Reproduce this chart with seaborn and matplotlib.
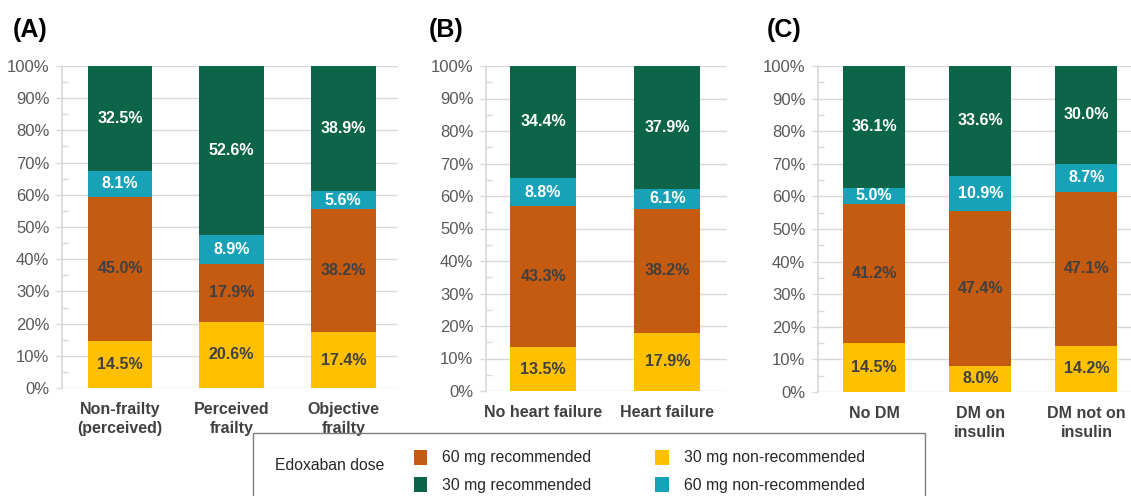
import numpy as np
import pandas as pd
import matplotlib
matplotlib.use("Agg")
import matplotlib.pyplot as plt
import matplotlib.ticker as mticker
from matplotlib.patches import Patch, Rectangle
import seaborn as sns

# stacking order, bottom -> top
series_names = ["30 mg non-recommended", "60 mg recommended", "60 mg non-recommended", "30 mg recommended"]
series_colors = {"30 mg non-recommended": "#FFC000", "60 mg recommended": "#C55A11",
                 "60 mg non-recommended": "#17A2B8", "30 mg recommended": "#0C6548"}
label_colors = {"30 mg non-recommended": "#404040", "60 mg recommended": "#404040",
                "60 mg non-recommended": "white", "30 mg recommended": "white"}

# (A) frailty
groups_a = ["Non-frailty\n(perceived)", "Perceived\nfrailty", "Objective\nfrailty"]
a_30_nonrec = [14.5, 20.6, 17.4]
a_60_rec = [45.0, 17.9, 38.2]
a_60_nonrec = [8.1, 8.9, 5.6]
a_30_rec = [32.5, 52.6, 38.9]

# (B) heart failure
groups_b = ["No heart failure", "Heart failure"]
b_30_nonrec = [13.5, 17.9]
b_60_rec = [43.3, 38.2]
b_60_nonrec = [8.8, 6.1]
b_30_rec = [34.4, 37.9]

# (C) diabetes
groups_c = ["No DM", "DM on\ninsulin", "DM not on\ninsulin"]
c_30_nonrec = [14.5, 8.0, 14.2]
c_60_rec = [41.2, 47.4, 47.1]
c_60_nonrec = [5.0, 10.9, 8.7]
c_30_rec = [36.1, 33.6, 30.0]

sns.set_theme(style="white")
plt.rcParams['font.family'] = ['Liberation Sans', 'DejaVu Sans']

W, H = 1131, 496
fig = plt.figure(figsize=(W / 100, H / 100), dpi=100)


def px_axes(left, right, top, bottom):
    return fig.add_axes([left / W, 1 - bottom / H, (right - left) / W, (bottom - top) / H])


def draw_panel(ax, groups, vals, width, xlim, letter, letter_x):
    df = pd.DataFrame({"group": groups})
    for name, v in zip(series_names, vals):
        df[name] = v
    total = df[series_names].sum(axis=1)
    cum = np.zeros(len(groups))
    bottoms, tops = {}, {}
    for name in series_names:
        share = df[name].values / total.values * 100
        bottoms[name] = cum.copy()
        cum = cum + share
        tops[name] = cum.copy()
    for name in reversed(series_names):
        d = pd.DataFrame({"group": groups, "top": tops[name]})
        sns.barplot(data=d, x="group", y="top", order=groups, color=series_colors[name],
                    saturation=1, width=width, errorbar=None, linewidth=0, ax=ax)
    for name in series_names:
        for i, v in enumerate(df[name].values):
            ax.text(i, (bottoms[name][i] + tops[name][i]) / 2, f"{v:.1f}%", ha="center", va="center",
                    fontsize=11.5, fontweight="bold", color=label_colors[name])
    ax.set_xlim(*xlim)
    ax.set_ylim(0, 100)
    ax.set_xlabel("")
    ax.set_ylabel("")
    ax.set_axisbelow(True)
    ax.yaxis.grid(True, color="#d9d9d9", lw=1)
    ax.yaxis.set_major_locator(mticker.MultipleLocator(10))
    ax.yaxis.set_minor_locator(mticker.MultipleLocator(5))
    ax.yaxis.set_major_formatter(mticker.PercentFormatter(decimals=0))
    for s in ["top", "right", "bottom"]:
        ax.spines[s].set_visible(False)
    ax.spines["left"].set_color("#d9d9d9")
    ax.tick_params(axis="y", which="major", left=True, direction="out", length=4, width=1,
                   color="#d9d9d9", labelsize=12, labelcolor="#595959", pad=5)
    ax.tick_params(axis="y", which="minor", left=True, direction="in", length=4, width=1, color="#d9d9d9")
    ax.tick_params(axis="x", length=0, pad=10)
    for t in ax.get_xticklabels():
        t.set_fontsize(11.5)
        t.set_fontweight("bold")
        t.set_color("#404040")
        t.set_linespacing(1.35)
    fig.text(letter_x / W, 1 - 30 / H, letter, fontsize=18, fontweight="bold", color="black",
             ha="left", va="center")


ax_a = px_axes(62, 398, 66, 388)
draw_panel(ax_a, groups_a, [a_30_nonrec, a_60_rec, a_60_nonrec, a_30_rec], 0.58, (-0.52, 2.49), "(A)", 13)
ax_b = px_axes(486, 727, 66, 391)
draw_panel(ax_b, groups_b, [b_30_nonrec, b_60_rec, b_60_nonrec, b_30_rec], 0.53, (-0.46, 1.48), "(B)", 429)
ax_c = px_axes(818, 1131, 66, 392)
draw_panel(ax_c, groups_c, [c_30_nonrec, c_60_rec, c_60_nonrec, c_30_rec], 0.585, (-0.53, 2.42), "(C)", 767)

# legend box
fig.add_artist(Rectangle((253 / W, -0.05), (925 - 253) / W, 0.05 + 1 - 433 / H, transform=fig.transFigure,
                         fill=False, edgecolor="#7f7f7f", lw=1, clip_on=False))
fig.text(275 / W, 1 - 466 / H, "Edoxaban dose", fontsize=11.3, color="#262626", ha="left", va="center")
legend_order = ["60 mg recommended", "30 mg recommended", "30 mg non-recommended", "60 mg non-recommended"]
handles = [Patch(facecolor=series_colors[n], edgecolor="none", label=n) for n in legend_order]
fig.legend(handles=handles, ncol=2, loc="upper left", bbox_to_anchor=(401 / W, 1 - 437 / H),
           frameon=False, fontsize=11.3, handlelength=0.85, handleheight=1.1, handletextpad=0.95,
           columnspacing=4.1, labelspacing=0.75, borderpad=0.3, labelcolor="#262626")

fig.savefig("out.png", dpi=100)
